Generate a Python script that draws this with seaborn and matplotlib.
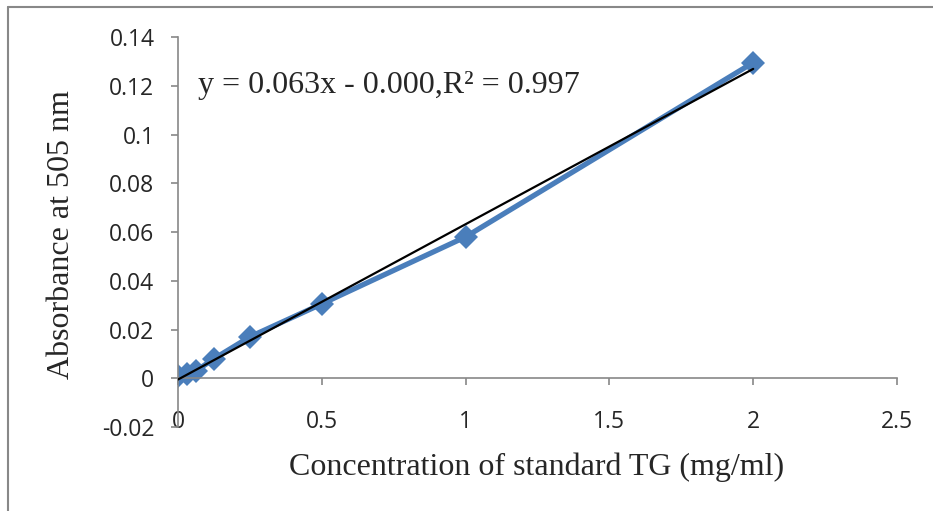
import numpy as np
import pandas as pd
import matplotlib
matplotlib.use("Agg")
import matplotlib.pyplot as plt
import seaborn as sns
from matplotlib.lines import Line2D

# ─── Data ─────────────────────────────────────────────────────────────────────
conc = [0, 0.03125, 0.0625, 0.125, 0.25, 0.5, 1, 2]
absorb = [0.001, 0.0017, 0.003, 0.008, 0.017, 0.0305, 0.058, 0.1295]
x_ticks = [0, 0.5, 1, 1.5, 2, 2.5]
y_ticks = [-0.02, 0, 0.02, 0.04, 0.06, 0.08, 0.1, 0.12, 0.14]
eq_text = "y = 0.063x - 0.000,R² = 0.997"

df = pd.DataFrame({"conc": conc, "abs": absorb})

# ─── Figure ───────────────────────────────────────────────────────────────────
sns.set_style("white")
plt.rcParams["font.family"] = ["Open Sans", "DejaVu Sans"]

fig = plt.figure(figsize=(9.33, 5.11), dpi=100)
ax = fig.add_axes([178 / 933, 1 - 427 / 511, (897 - 178) / 933, (427 - 37) / 511])

sns.lineplot(data=df, x="conc", y="abs", ax=ax, color="#4a7ebb", lw=3.8,
             marker="D", markersize=12, markeredgewidth=0, zorder=2)

# linear trendline
slope, icpt = np.polyfit(conc, absorb, 1)
xx = np.array([0, 2])
ax.plot(xx, slope * xx + icpt, color="black", lw=1.6, zorder=3)

ax.set_xlim(0, 2.5)
ax.set_ylim(-0.02, 0.14)
ax.set_xticks(x_ticks)
ax.set_xticklabels([f"{t:g}" for t in x_ticks])
ax.set_yticks(y_ticks)
ax.set_yticklabels([f"{t:g}" for t in y_ticks])

for s in ["top", "right"]:
    ax.spines[s].set_visible(False)
ax.spines["bottom"].set_position(("data", 0))
for s in ["left", "bottom"]:
    ax.spines[s].set_color("#888888")
    ax.spines[s].set_linewidth(1.2)

ax.tick_params(axis="x", direction="out", length=5, width=1.2, color="#888888",
               pad=18, labelsize=16.5)
ax.tick_params(axis="y", direction="out", length=5, width=1.2, color="#888888",
               pad=12, labelsize=16.5)
ax.tick_params(bottom=True, left=True)

ax.set_xlabel("Concentration of standard TG (mg/ml)", family="Liberation Serif",
              fontsize=23)
ax.set_ylabel("Absorbance at 505 nm", family="Liberation Serif", fontsize=23)
ax.xaxis.set_label_coords((537 - 178) / (897 - 178), -(452 - 427) / (427 - 37))
ax.yaxis.set_label_coords(-(178 - 76) / (897 - 178), (427 - 235) / (427 - 37))

ax.text(0.07, 0.12, eq_text, family="Liberation Serif", fontsize=23,
        va="center", ha="left")

# outer chart border (top and left only visible)
fig.add_artist(Line2D([8 / 933, 1], [1 - 7 / 511] * 2, color="#888888", lw=1.5))
fig.add_artist(Line2D([8 / 933] * 2, [0, 1 - 7 / 511], color="#888888", lw=1.5))

fig.savefig("out.png", dpi=100)
